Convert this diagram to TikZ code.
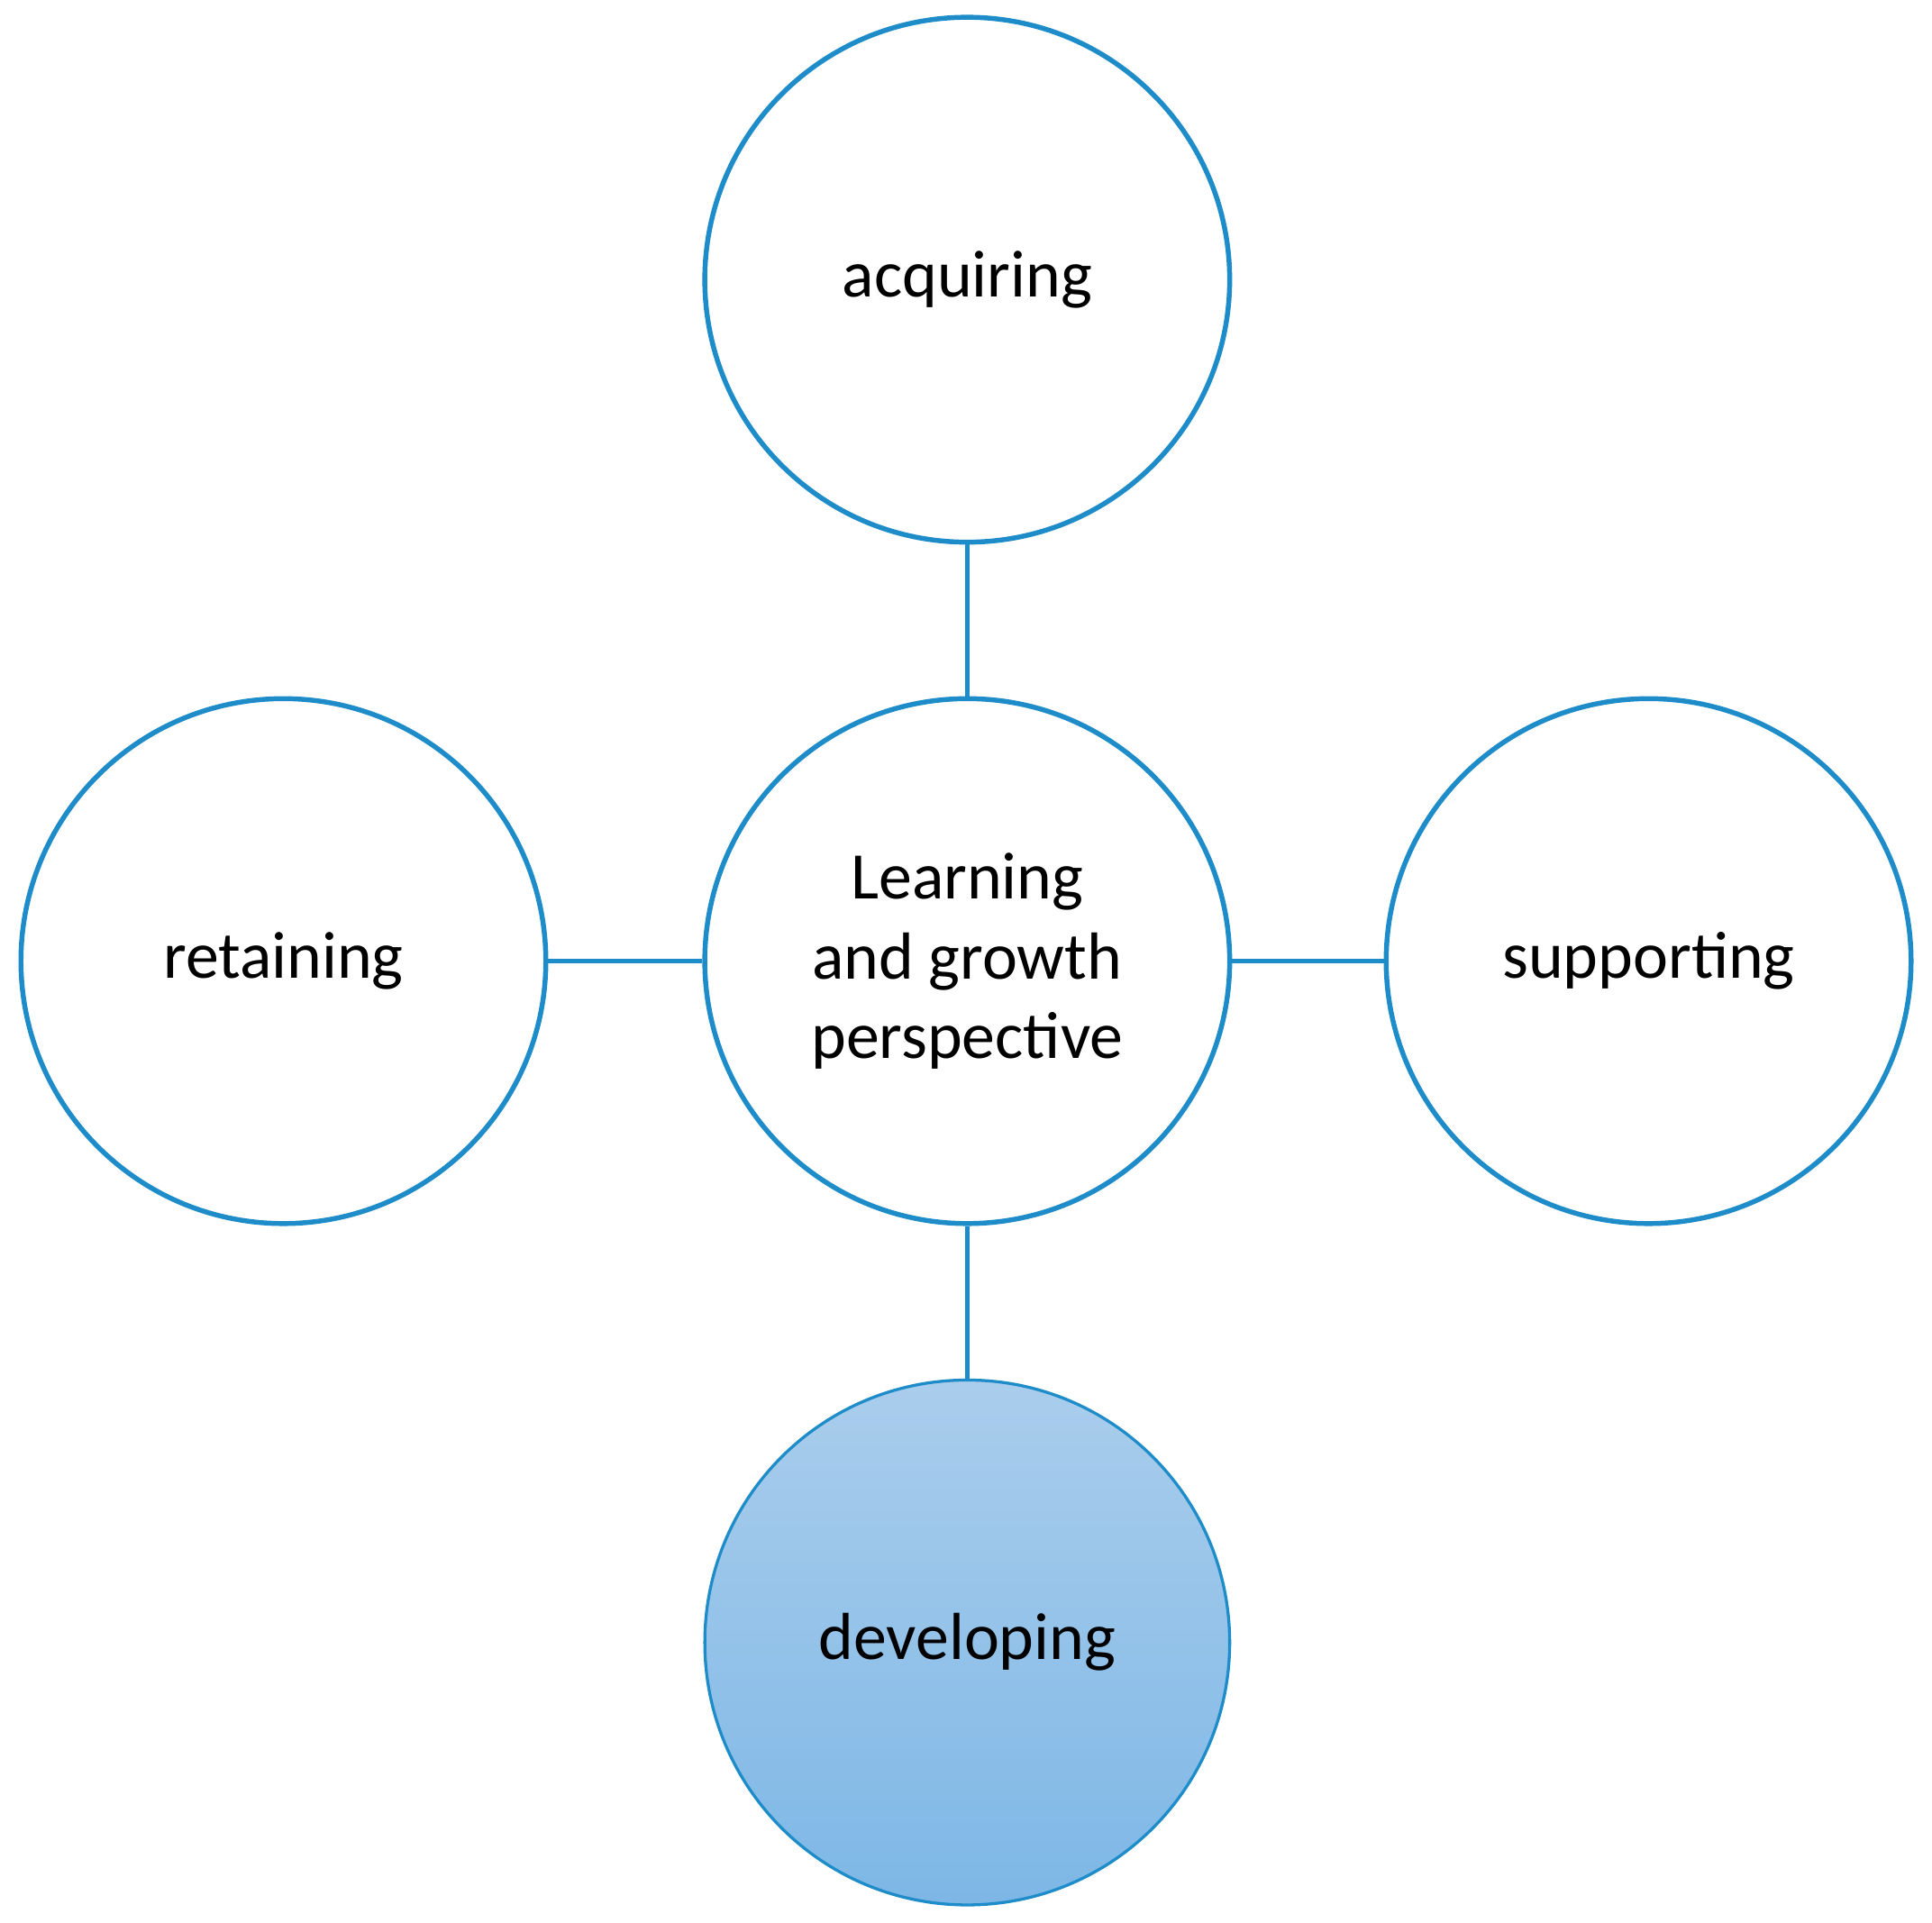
\documentclass[tikz,border=0pt]{standalone}
\usepackage{fontspec}
\setmainfont{Carlito}
\definecolor{edge}{RGB}{30,140,200}
\definecolor{ftop}{RGB}{170,205,236}
\definecolor{fbot}{RGB}{125,183,230}
\begin{document}
\begin{tikzpicture}[x=0.5pt,y=-0.5pt,
  c/.style={circle,draw=edge,line width=2pt,minimum size=213pt,inner sep=0pt,align=center,font=\fontsize{27}{32.5}\selectfont},
  ln/.style={draw=edge,line width=2pt}]
\useasboundingbox (0,0) rectangle (1568,1560);
\node[c] (m) at (785,780) {Learning\\and growth\\perspective};
\node[c] (t) at (785,227) {acquiring};
\node[c] (l) at (230,780) {retaining};
\node[c] (r) at (1338,780) {supporting};
\node[c,line width=1.2pt,top color=ftop,bottom color=fbot] (b) at (785,1333) {developing};
\draw[ln] (m) -- (t);
\draw[ln] (m) -- (l);
\draw[ln] (m) -- (r);
\draw[ln] (m) -- (b);
\end{tikzpicture}
\end{document}
